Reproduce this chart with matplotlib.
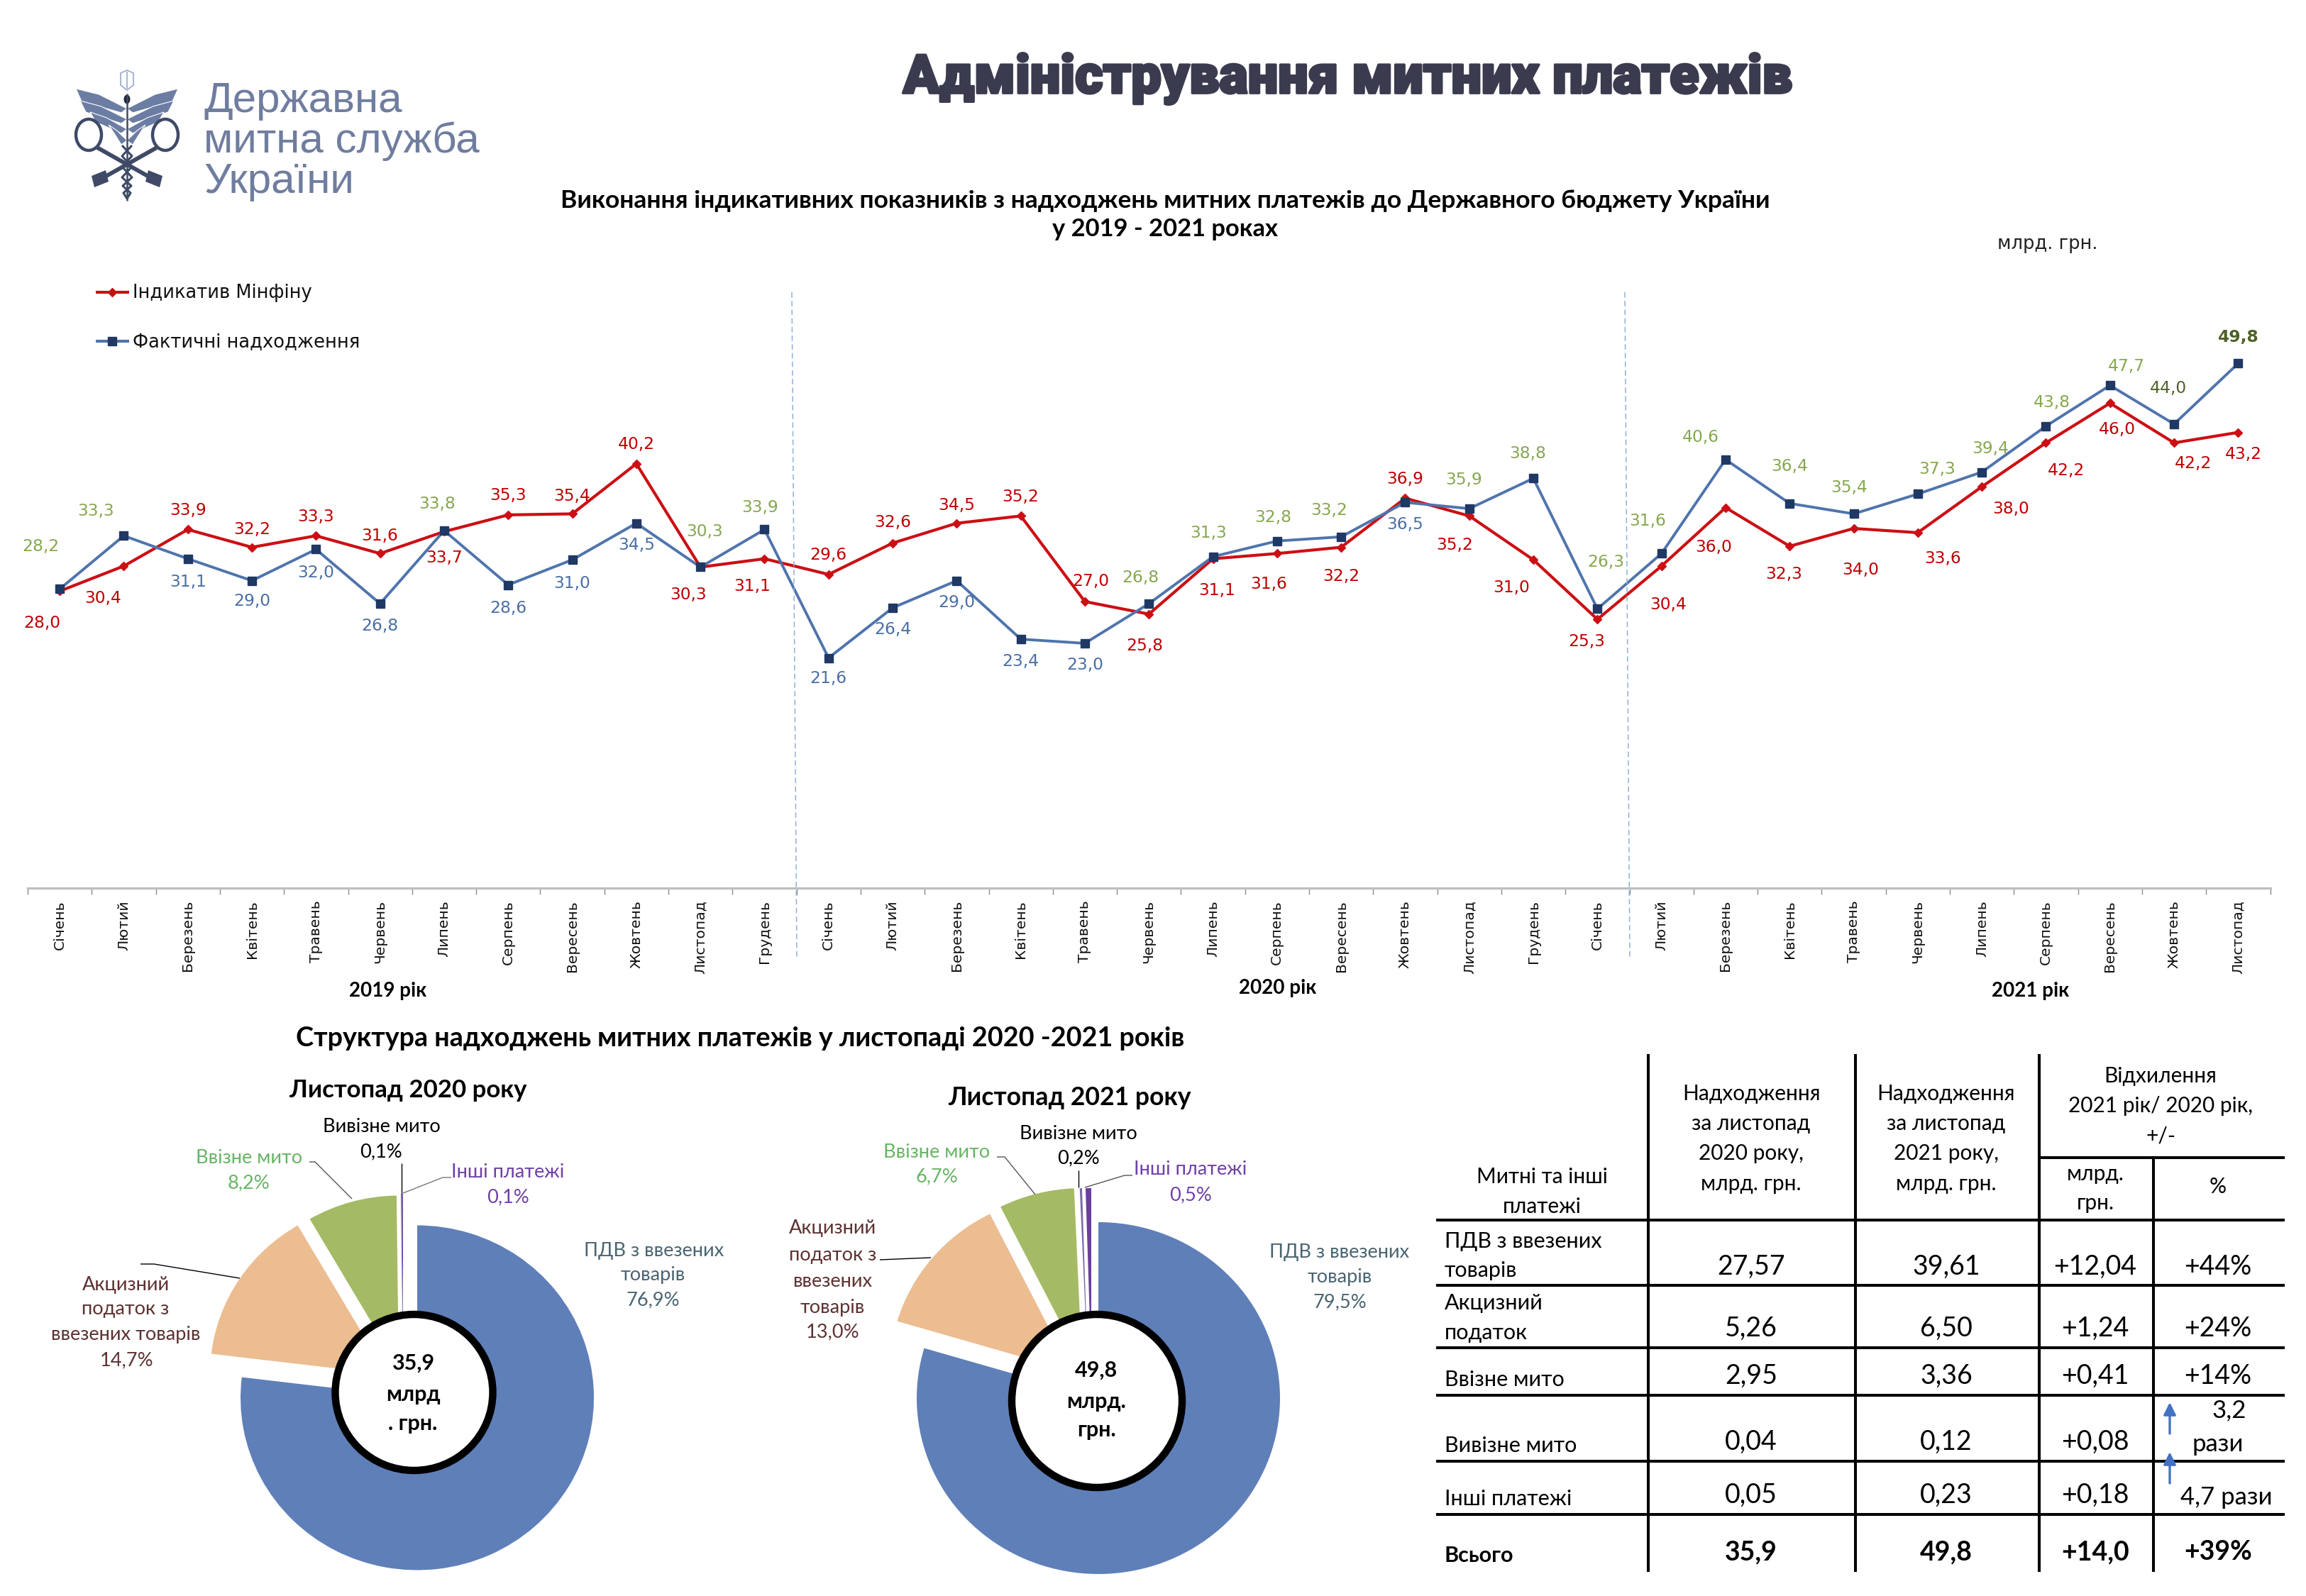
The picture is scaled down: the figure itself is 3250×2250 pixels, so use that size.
import matplotlib
matplotlib.use("Agg")
import matplotlib.pyplot as plt
from matplotlib.patches import Ellipse, Polygon
from matplotlib import patheffects as pe

W, H = 3250, 2250
SANS = ['Lato', 'Noto Sans', 'DejaVu Sans']
plt.rcParams['font.family'] = SANS

months = ['Січень', 'Лютий', 'Березень', 'Квітень', 'Травень', 'Червень', 'Липень',
          'Серпень', 'Вересень', 'Жовтень', 'Листопад', 'Грудень']
month_labels = months + months + months[:11]

indicative = [28.0, 30.4, 33.9, 32.2, 33.3, 31.6, 33.7, 35.3, 35.4, 40.2, 30.3, 31.1,
              29.6, 32.6, 34.5, 35.2, 27.0, 25.8, 31.1, 31.6, 32.2, 36.9, 35.2, 31.0,
              25.3, 30.4, 36.0, 32.3, 34.0, 33.6, 38.0, 42.2, 46.0, 42.2, 43.2]
actual = [28.2, 33.3, 31.1, 29.0, 32.0, 26.8, 33.8, 28.6, 31.0, 34.5, 30.3, 33.9,
          21.6, 26.4, 29.0, 23.4, 23.0, 26.8, 31.3, 32.8, 33.2, 36.5, 35.9, 38.8,
          26.3, 31.6, 40.6, 36.4, 35.4, 37.3, 39.4, 43.8, 47.7, 44.0, 49.8]

pie_names = ['ПДВ з ввезених товарів', 'Акцизний податок з ввезених товарів', 'Ввізне мито',
             'Вивізне мито', 'Інші платежі']
pie_2020 = [76.9, 14.7, 8.2, 0.1, 0.1]
pie_2021 = [79.5, 13.0, 6.7, 0.2, 0.5]

table_rows = ['ПДВ з ввезених\nтоварів', 'Акцизний\nподаток', 'Ввізне мито', 'Вивізне мито',
              'Інші платежі', 'Всього']
col_2020 = ['27,57', '5,26', '2,95', '0,04', '0,05', '35,9']
col_2021 = ['39,61', '6,50', '3,36', '0,12', '0,23', '49,8']
col_diff = ['+12,04', '+1,24', '+0,41', '+0,08', '+0,18', '+14,0']
col_pct = ['+44%', '+24%', '+14%', '', '', '+39%']

# label offsets from their points, in reference pixels (separate from the data)
ind_off = [(-25, 45), (-29, 45), (0, -27), (0, -25), (0, -27), (0, -25), (0, 37), (0, -27), (0, -25), (0, -27),
           (-17, 39), (-17, 39), (0, -27), (0, -29), (0, -25), (0, -27), (8, -29), (-6, 45), (6, 45), (-12, 43),
           (0, 41), (0, -27), (-21, 41), (-31, 39), (-15, 31), (10, 54), (-17, 56), (-8, 39), (10, 58), (35, 37),
           (41, 31), (29, 39), (10, 37), (27, 29), (8, 31)]
act_off = [(-27, -60), (-39, -35), (0, 33), (0, 29), (0, 33), (0, 31), (-10, -37), (0, 33), (0, 33), (0, 31),
           (6, -50), (-6, -31), (0, 29), (0, 31), (0, 31), (0, 31), (0, 31), (-12, -37), (-6, -33), (-6, -33),
           (-17, -37), (0, 31), (-8, -41), (-8, -35), (12, -66), (-19, -46), (-35, -31), (0, -52), (-6, -37), (27, -35),
           (12, -33), (8, -33), (23, -27), (-8, -50), (0, -37)]

RED, BLUE, NAVY = '#cc0f14', '#4f74ad', '#1f3864'
GREEN_L, BLUE_L, OLIVE_L = '#86a84e', '#4a6fa5', '#4f6228'

fig = plt.figure(figsize=(W / 100, H / 100), dpi=100, facecolor='white')


def axes_px(x0, y0, x1, y1, **kw):
    return fig.add_axes([x0 / W, 1 - y1 / H, (x1 - x0) / W, (y1 - y0) / H], **kw)


# ---------------- line chart ----------------
STEP = 90.3
AX_L, AX_R = 39, 39 + 35 * STEP
ax = axes_px(AX_L, 340, AX_R, 1252)
ax.patch.set_alpha(0)
xs = list(range(35))
ax.plot(xs, indicative, color=RED, lw=3.0, marker='D', ms=6.5, mfc=RED, mec=RED, label='Індикатив Мінфіну', zorder=3)
ax.plot(xs, actual, color=BLUE, lw=2.8, marker='s', ms=8.2, mfc=NAVY, mec=NAVY, label='Фактичні надходження', zorder=4)
ax.set_xlim(-0.5, 34.5)
Y0, SC = 1245.5, 14.72
ax.set_ylim((Y0 - 1252) / SC, (Y0 - 340) / SC)
for s in ('top', 'right', 'left'):
    ax.spines[s].set_visible(False)
ax.spines['bottom'].set_color('#bfbfbf')
ax.spines['bottom'].set_linewidth(2.4)
ax.set_yticks([])
ax.set_xticks([i - 0.5 for i in range(36)])
ax.set_xticklabels([])
ax.tick_params(axis='x', length=6.5, width=1, color='#8c8c8c')
for i, m in enumerate(month_labels):
    ax.annotate(m, (i, 0), xycoords=('data', 'axes fraction'), xytext=(0, -17), textcoords='offset pixels',
                rotation=90, ha='center', va='top', fontsize=14.6, family='DejaVu Sans', color='#111111')


def fmt(v):
    return f'{v:.1f}'.replace('.', ',')


for i, v in enumerate(indicative):
    dx, dy = ind_off[i]
    ax.annotate(fmt(v), (i, v), xytext=(dx, -dy), textcoords='offset pixels', ha='center', va='center',
                fontsize=16.8, family='DejaVu Sans', color='#c00000', zorder=6)
for i, v in enumerate(actual):
    dx, dy = act_off[i]
    dark = i >= len(actual) - 2
    col = OLIVE_L if dark else (GREEN_L if dy < 0 else BLUE_L)
    ax.annotate(fmt(v), (i, v), xytext=(dx, -dy), textcoords='offset pixels', ha='center', va='center',
                fontsize=16.8, family='DejaVu Sans', color=col,
                fontweight='bold' if i == len(actual) - 1 else 'normal', zorder=6)

# ---------------- pies ----------------
COLS = ['#5f7fb8', '#ebbd91', '#a5ba65', '#7b6aa8', '#6a3fa0']


def pie(vals, cx, cy, rx, ry, offs):
    L_ = 1.5
    a = axes_px(cx - L_ * rx, cy - L_ * ry, cx + L_ * rx, cy + L_ * ry)
    wedges, _ = a.pie(vals, colors=COLS, startangle=90, counterclock=False, radius=1, center=(0, 0),
                      wedgeprops={'linewidth': 0})
    for w, (ox, oy) in zip(wedges, offs):
        w.set_center((ox / rx, -oy / ry))
    a.set_aspect('auto')
    a.set_xlim(-L_, L_)
    a.set_ylim(-L_, L_)
    a.patch.set_alpha(0)
    a.axis('off')
    return a


pie(pie_2020, 588, 1970.5, 249, 243, [(0, 0), (-43, -33), (-26, -42), (-20, -45), (-20, -45)])
pie(pie_2021, 1548, 1971, 256, 248, [(0, 0), (-38, -38), (-23, -48), (-15, -48), (-10, -48)])

# ---------------- overlay in reference pixels ----------------
ov = fig.add_axes([0, 0, 1, 1], zorder=10)
ov.set_xlim(0, W)
ov.set_ylim(H, 0)
ov.axis('off')
ov.patch.set_alpha(0)


def T(x, y, s, size, color='black', weight='normal', ha='center', family=None, **kw):
    return ov.text(x, y, s, fontsize=size, color=color, fontweight=weight, ha=ha, va='center',
                   family=family or SANS, **kw)


def L(xs_, ys_, color='black', lw=1.0, **kw):
    ov.plot(xs_, ys_, color=color, lw=lw, solid_capstyle='butt', **kw)


# holes
ov.add_patch(Ellipse((583.5, 1963), 222, 220, fc='white', ec='black', lw=7.5))
ov.add_patch(Ellipse((1546, 1975), 240, 244, fc='white', ec='black', lw=7.5))
for y, s in zip((1922, 1966, 2007), ('35,9', 'млрд', '. грн.')):
    T(582, y, s, 22, weight='bold')
for y, s in zip((1932, 1975.5, 2016), ('49,8', 'млрд.', 'грн.')):
    T(1545, y, s, 22, weight='bold')

# titles
title = T(1900, 111, 'Адміністрування митних платежів', 54.5, color='#3b3b4f', weight='black', family=['Roboto', 'DejaVu Sans'])
title.set_path_effects([pe.withStroke(linewidth=2.5, foreground='#3b3b4f')])
T(1642, 283, 'Виконання індикативних показників з надходжень митних платежів до Державного бюджету України', 25.5,
  weight='bold')
T(1642, 323, 'у 2019 - 2021 роках', 24.8, weight='bold')
T(2886, 344, 'млрд. грн.', 18.5, color='#222222', family='DejaVu Sans')
for x, y, s in ((547, 1397, '2019 рік'), (1801, 1393, '2020 рік'), (2862, 1397, '2021 рік')):
    T(x, y, s, 20, weight='bold')
T(1043, 1464, 'Структура надходжень митних платежів у листопаді 2020 -2021 років', 27.2, weight='bold')
T(575, 1537, 'Листопад 2020 року', 25, weight='bold')
T(1507, 1547, 'Листопад 2021 року', 25.7, weight='bold')

# legend
for y, c, mk, ms, name in ((412, RED, 'D', 6.5, 'Індикатив Мінфіну'), (481, BLUE, 's', 8.2, 'Фактичні надходження')):
    L([135, 182], [y, y], color=c, lw=3)
    ov.plot([158], [y], marker=mk, ms=ms, color=RED if mk == 'D' else NAVY)
    T(187, y + 1, name, 18.5, ha='left', color='#111111', family='DejaVu Sans')

# separators
for x0, x1 in ((1116, 1123), (2290, 2297)):
    ov.plot([x0, x1], [412, 1350], color='#8fb0d8', lw=1.1, ls=(0, (5, 3)))

# logo
LOGO = '#6f7d9f'
for y, s in zip((142, 199, 257), ('Державна', 'митна служба', 'України')):
    T(287, y, s, 43.3, color=LOGO, ha='left', family=['Liberation Sans', 'DejaVu Sans'])
DK, MID = '#3e4a66', '#6c7da3'
CX = 179
for sgn in (-1, 1):
    for k, (ytop, w, h) in enumerate(((125, 72, 18), (142, 66, 16), (158, 52, 14), (176, 26, 12))):
        ov.add_patch(Polygon([(CX, ytop + h + 10), (CX + sgn * w * 0.55, ytop + 8), (CX + sgn * w, ytop),
                              (CX + sgn * (w - 8), ytop + h), (CX + sgn * 8, ytop + h + 16)],
                             closed=True, fc=MID, ec='white', lw=0.8))
    ov.add_patch(Ellipse((CX + sgn * 54, 190), 36, 44, fc='none', ec=DK, lw=3.2))
    L([CX + sgn * 42, CX - sgn * 36], [208, 252], color=DK, lw=4.2)
    ov.add_patch(Polygon([(CX - sgn * 30, 240), (CX - sgn * 50, 248), (CX - sgn * 46, 264), (CX - sgn * 26, 256)],
                         closed=True, fc=DK, ec='none'))
L([CX, CX], [132, 283], color=DK, lw=1.8)
L([CX - 7, CX + 7, CX - 7, CX + 7, CX - 6, CX + 5, CX], [205, 220, 235, 250, 262, 272, 280], color=DK, lw=2.2)
L([CX + 7, CX - 7, CX + 7, CX - 7, CX + 6, CX - 5, CX], [205, 220, 235, 250, 262, 272, 280], color=DK, lw=2.2)
ov.add_patch(Ellipse((CX, 140), 9, 13, fc='#222a3c', ec='none'))
ov.add_patch(Polygon([(170, 103), (179, 99), (188, 103), (188, 120), (179, 127), (170, 120)], closed=True,
                     fc='none', ec='#9fb0d0', lw=1.3))
L([179, 179], [101, 125], color='#9fb0d0', lw=1.3)

# pie labels
PC, EC, GC, VC = '#4a6572', '#5e3232', '#67b565', '#7040a8'
FS = 19.6
pie_text = [
    (538, 1588, 'Вивізне мито', 'black'), (537, 1623.5, '0,1%', 'black'),
    (351, 1633, 'Ввізне мито', GC), (351, 1668, '8,2%', GC),
    (716, 1653, 'Інші платежі', VC), (716, 1688, '0,1%', VC),
    (177, 1811, 'Акцизний', EC), (177, 1846, 'податок з', EC), (177, 1882, 'ввезених товарів', EC), (179, 1918, '14,7%', EC),
    (922, 1764, 'ПДВ з ввезених', PC), (920, 1797, 'товарів', PC), (920, 1833, '76,9%', PC),
    (1520, 1598, 'Вивізне мито', 'black'), (1520, 1633, '0,2%', 'black'),
    (1320, 1624.5, 'Ввізне мито', GC), (1320, 1659, '6,7%', GC),
    (1678, 1649, 'Інші платежі', VC), (1678, 1685, '0,5%', VC),
    (1173.5, 1732, 'Акцизний', EC), (1173.5, 1769, 'податок з', EC), (1173.5, 1806, 'ввезених', EC),
    (1173.5, 1843, 'товарів', EC), (1173.5, 1878, '13,0%', EC),
    (1888, 1765, 'ПДВ з ввезених', PC), (1888, 1800.5, 'товарів', PC), (1888, 1836, '79,5%', PC),
]
for x, y, s, c in pie_text:
    T(x, y, s, FS, color=c)
leaders = [
    ([566, 566], [1640, 1682], 'black'), ([436, 444, 496], [1638, 1638, 1690], '#555555'),
    ([636, 624, 568], [1660, 1660, 1682], '#777777'), ([198, 217, 338], [1782, 1782, 1802], 'black'),
    ([1520, 1520], [1650, 1674], 'black'), ([1405, 1416, 1459], [1631, 1631, 1684], '#555555'),
    ([1596, 1585, 1529], [1657, 1657, 1674], '#555555'), ([1240, 1312], [1776, 1773], 'black'),
]
for xx, yy, c in leaders:
    L(xx, yy, color=c, lw=1.0)

# table
TL = 2.9
for x, y0 in ((2323, 1486), (2615, 1486), (2874, 1486), (3035, 1632)):
    L([x, x], [y0, 2216], lw=TL)
for y in (1720, 1812, 1899.5, 1967, 2060, 2135):
    L([2024, 3220], [y, y], lw=TL)
L([2874, 3220], [1632, 1632], lw=TL)
HS, VS = 21.5, 27
for y, s in ((1659, 'Митні та інші'), (1701, 'платежі')):
    T(2173, y, s, HS)
for x in (2468, 2743):
    yr = '2020' if x == 2468 else '2021'
    for y, s in ((1542, 'Надходження'), (1584, 'за листопад'), (1626, yr + ' року,'), (1669, 'млрд. грн.')):
        T(x, y, s, HS)
for y, s in ((1517, 'Відхилення'), (1559, '2021 рік/ 2020 рік,'), (1601, '+/-')):
    T(3045, y, s, HS)
for y, s in ((1655, 'млрд.'), (1696, 'грн.')):
    T(2953, y, s, HS)
T(3126, 1673, '%', HS)
label_ys = [(1750, 1791), (1837, 1879), (1945,), (2038,), (2113,), (2193,)]
value_ys = [1786, 1873, 1940, 2033, 2108, 2188]
for r, (name, ys_, vy) in enumerate(zip(table_rows, label_ys, value_ys)):
    w = 'bold' if r == 5 else 'normal'
    for part, y in zip(name.split('\n'), ys_):
        T(2036, y, part, 22, ha='left', weight=w)
    T(2468, vy, col_2020[r], VS, weight=w)
    T(2743, vy, col_2021[r], VS, weight=w)
    T(2953, vy, col_diff[r], VS, weight=w)
    T(3126, vy, col_pct[r], VS, weight=w)
T(3142, 1988, '3,2', 25)
T(3126, 2036, 'рази', 25)
T(3138, 2111, '4,7 рази', 25)
for y0, y1 in ((2021, 1977), (2091, 2047)):
    ov.annotate('', xy=(3058, y1), xytext=(3058, y0),
                arrowprops=dict(arrowstyle='-|>', color='#4472c4', lw=2.4, mutation_scale=26, shrinkA=0, shrinkB=0))

fig.savefig('out.png', dpi=100, facecolor='white')
